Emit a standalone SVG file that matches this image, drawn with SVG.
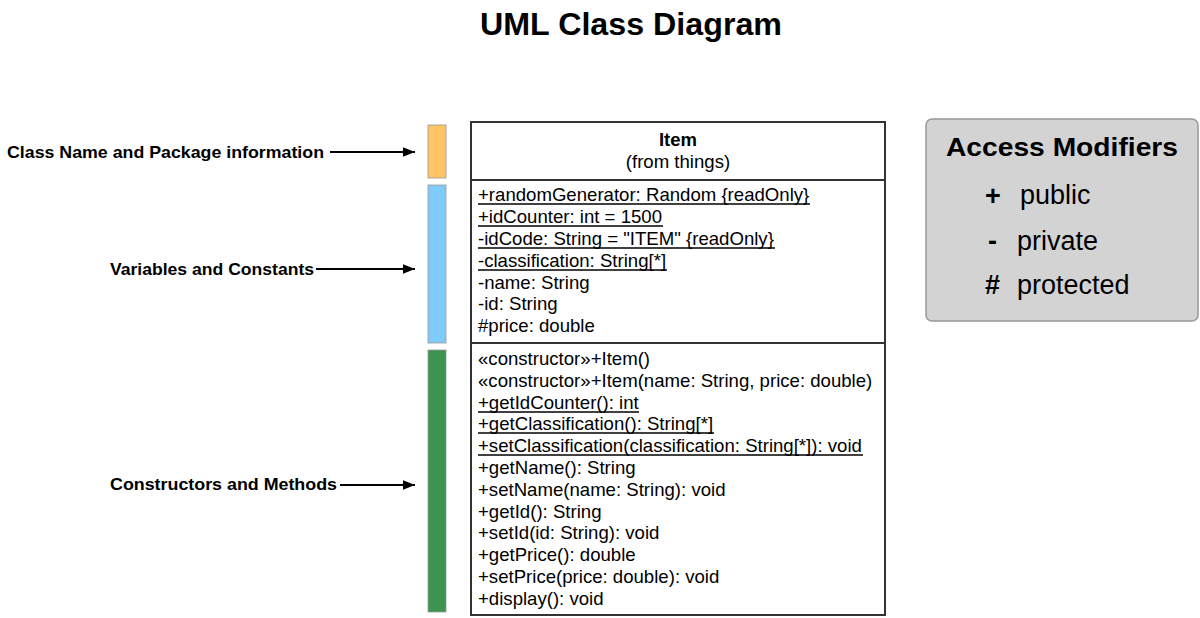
<svg xmlns="http://www.w3.org/2000/svg" width="1200" height="618" viewBox="0 0 1200 618">
<style>
text{font-family:"Liberation Sans",Arial,sans-serif;fill:#000}
.lbl{font-size:17px;font-weight:bold}
.m{font-size:18.6px}
.ul{stroke:#000;stroke-width:1.3}
.ar{stroke:#000;stroke-width:2;fill:none}
.am{font-size:27px}
</style>
<defs><marker id="ah" viewBox="0 0 10 10" refX="10" refY="5" markerWidth="6" markerHeight="6" markerUnits="strokeWidth" orient="auto"><path d="M0,1 L10,5 L0,9 z" fill="#000"/></marker></defs>
<rect width="1200" height="618" fill="#fff"/>
<text x="631" y="35" font-size="31" font-weight="bold" text-anchor="middle" textLength="302" lengthAdjust="spacingAndGlyphs">UML Class Diagram</text>
<g id="labels">
<text class="lbl" x="7" y="158" textLength="317" lengthAdjust="spacingAndGlyphs">Class Name and Package information</text>
<text class="lbl" x="110" y="275" textLength="204" lengthAdjust="spacingAndGlyphs">Variables and Constants</text>
<text class="lbl" x="110" y="490" textLength="227" lengthAdjust="spacingAndGlyphs">Constructors and Methods</text>
</g>
<g id="connectors">
<line class="ar" x1="330" y1="152" x2="415" y2="152" marker-end="url(#ah)"/>
<line class="ar" x1="316" y1="269" x2="415" y2="269" marker-end="url(#ah)"/>
<line class="ar" x1="340" y1="485" x2="415" y2="485" marker-end="url(#ah)"/>
</g>
<g id="bars">
<rect x="428" y="125" width="18" height="53" fill="#ffc466" stroke="#999" stroke-width="0.8"/>
<rect x="428" y="185" width="18" height="158" fill="#80cbfa" stroke="#999" stroke-width="0.8"/>
<rect x="428" y="350" width="18" height="262" fill="#3d9450" stroke="#999" stroke-width="0.8"/>
</g>
<g id="item">
<rect x="471" y="122" width="414" height="493" fill="#fff" stroke="#333" stroke-width="2"/>
<line x1="471" y1="180" x2="885" y2="180" stroke="#333" stroke-width="2"/>
<line x1="471" y1="343" x2="885" y2="343" stroke="#333" stroke-width="2"/>
<text x="678" y="146" font-size="18.5" font-weight="bold" text-anchor="middle">Item</text>
<text x="678" y="168" class="m" text-anchor="middle">(from things)</text>
<text class="m" x="478" y="201">+randomGenerator: Random {readOnly}</text>
<text class="m" x="478" y="223">+idCounter: int = 1500</text>
<text class="m" x="478" y="245">-idCode: String = "ITEM" {readOnly}</text>
<text class="m" x="478" y="267">-classification: String[*]</text>
<text class="m" x="478" y="289">-name: String</text>
<text class="m" x="478" y="310">-id: String</text>
<text class="m" x="478" y="332">#price: double</text>
<text class="m" x="478" y="365">«constructor»+Item()</text>
<text class="m" x="478" y="387">«constructor»+Item(name: String, price: double)</text>
<text class="m" x="478" y="409">+getIdCounter(): int</text>
<text class="m" x="478" y="430">+getClassification(): String[*]</text>
<text class="m" x="478" y="452">+setClassification(classification: String[*]): void</text>
<text class="m" x="478" y="474">+getName(): String</text>
<text class="m" x="478" y="496">+setName(name: String): void</text>
<text class="m" x="478" y="518">+getId(): String</text>
<text class="m" x="478" y="539">+setId(id: String): void</text>
<text class="m" x="478" y="561">+getPrice(): double</text>
<text class="m" x="478" y="583">+setPrice(price: double): void</text>
<text class="m" x="478" y="605">+display(): void</text>
<g class="ul">
<line x1="478" y1="204" x2="810" y2="204"/>
<line x1="478" y1="226" x2="663" y2="226"/>
<line x1="478" y1="248" x2="775" y2="248"/>
<line x1="478" y1="270" x2="667" y2="270"/>
<line x1="478" y1="412" x2="639" y2="412"/>
<line x1="478" y1="433" x2="714" y2="433"/>
<line x1="478" y1="455" x2="863" y2="455"/>
</g>
</g>
<g id="access">
<rect x="926" y="119" width="272" height="202" rx="6" fill="#d3d3d3" stroke="#999" stroke-width="1.5"/>
<text x="1062" y="156" font-size="26" font-weight="bold" text-anchor="middle" textLength="232" lengthAdjust="spacingAndGlyphs">Access Modifiers</text>
<text x="985" y="205" class="am" font-weight="bold">+</text>
<text x="1020" y="204" class="am">public</text>
<text x="988" y="250" class="am" font-weight="bold">-</text>
<text x="1017" y="250" class="am">private</text>
<text x="985" y="294" class="am" font-weight="bold">#</text>
<text x="1017" y="294" class="am">protected</text>
</g>
</svg>
